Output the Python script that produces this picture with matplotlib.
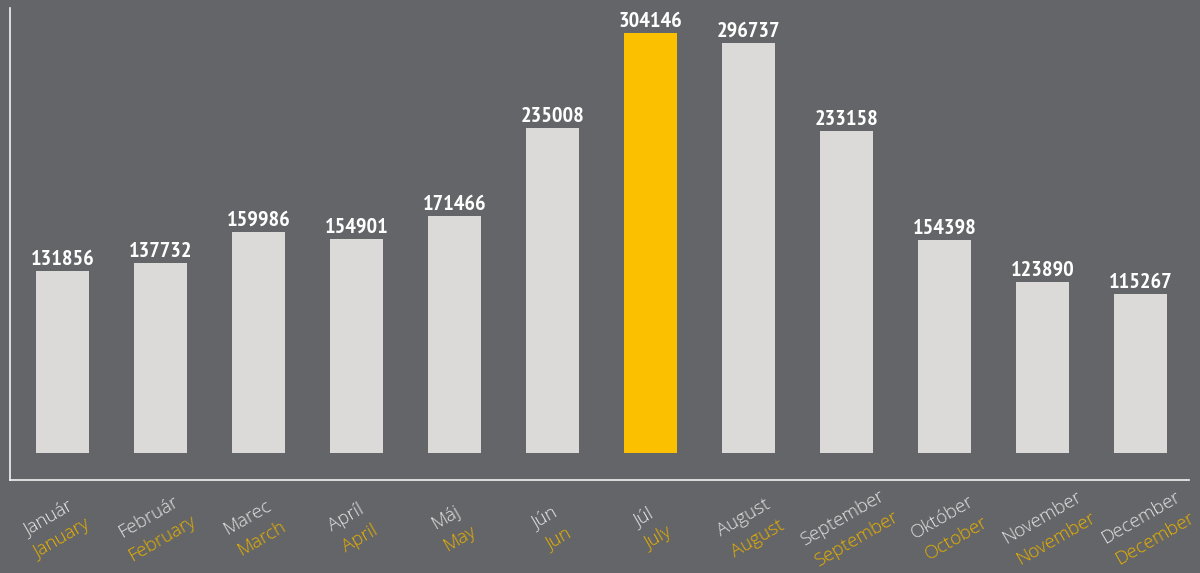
import matplotlib
matplotlib.use("Agg")
import matplotlib.pyplot as plt
import matplotlib.transforms as mtransforms

# data
mesiace_sk = ["Január", "Február", "Marec", "Apríl", "Máj", "Jún",
              "Júl", "August", "September", "Október", "November", "December"]
mesiace_en = ["January", "February", "March", "April", "May", "Jun",
              "July", "August", "September", "October", "November", "December"]
hodnoty = [131856, 137732, 159986, 154901, 171466, 235008,
           304146, 296737, 233158, 154398, 123890, 115267]
zvyraznit = "Júl"

BG = "#646568"
BAR = "#dcdad8"
YEL = "#fbc000"
YEL_TXT = "#e6b000"
WHITE_TXT = "#e2e2e2"

NUM_FONT = ["PT Sans Narrow", "DejaVu Sans"]
LAB_FONT = ["Open Sans", "DejaVu Sans"]

fig = plt.figure(figsize=(12, 5.73), dpi=100, facecolor=BG)
ax = fig.add_axes([10 / 1200, 93 / 573, 1179 / 1200, 472 / 573])
ax.set_facecolor(BG)

x = list(range(len(hodnoty)))
farby = [YEL if m == zvyraznit else BAR for m in mesiace_sk]
ax.bar(x, hodnoty, width=0.54, color=farby, zorder=2)

ax.set_xlim(-0.536, 11.495)
ax.set_ylim(-19550, 322230)

for s in ["top", "right"]:
    ax.spines[s].set_visible(False)
for s in ["left", "bottom"]:
    ax.spines[s].set_color("#f2f2f2")
    ax.spines[s].set_linewidth(1.2)
ax.set_xticks([])
ax.set_yticks([])

# hodnoty nad stlpcami
for xi, v in zip(x, hodnoty):
    ax.annotate(str(v), (xi, v), xytext=(0, 4.5), textcoords="offset points",
                ha="center", va="baseline", fontsize=16, fontweight="bold",
                family=NUM_FONT, color="white")

# popisky mesiacov (dva riadky, otocene o 30 stupnov)
base = mtransforms.blended_transform_factory(ax.transData, fig.transFigure)
y0 = 1 - 528 / 573
for xi, sk, en in zip(x, mesiace_sk, mesiace_en):
    posun = -7 + 1.3 * xi  # popisky su mierne roztiahnute oproti stlpcom
    t1 = mtransforms.offset_copy(base, fig=fig, x=posun - 7, y=10.5, units="dots")
    t2 = mtransforms.offset_copy(base, fig=fig, x=posun + 7, y=-10.5, units="dots")
    ax.text(xi, y0, sk, transform=t1, rotation=30, rotation_mode="anchor",
            ha="center", va="center", fontsize=13.5, family=LAB_FONT,
            fontweight="light", color=WHITE_TXT, clip_on=False)
    ax.text(xi, y0, en, transform=t2, rotation=30, rotation_mode="anchor",
            ha="center", va="center", fontsize=13.5, family=LAB_FONT,
            fontweight="light", color=YEL_TXT, clip_on=False)

fig.savefig("out.png", dpi=100, facecolor=BG)
